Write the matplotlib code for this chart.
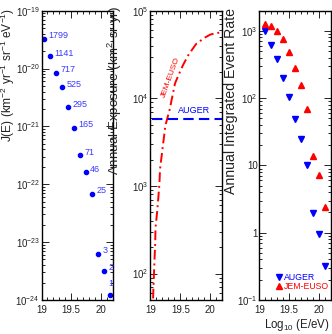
import matplotlib
matplotlib.use('Agg')
import matplotlib.pyplot as plt
import matplotlib.ticker as mticker
import numpy as np

plt.rcParams['font.family'] = ['Liberation Sans', 'DejaVu Sans']
plt.rcParams['mathtext.fontset'] = 'custom'
plt.rcParams['mathtext.rm'] = 'Liberation Sans'

# panel 1: flux and event counts
flux_logE = [19.05, 19.15, 19.25, 19.35, 19.45, 19.55, 19.65, 19.75, 19.85, 19.95, 20.05, 20.15]
flux_val = [3.3e-20, 1.65e-20, 8.5e-21, 4.8e-21, 2.15e-21, 9.5e-22, 3.2e-22, 1.6e-22, 6.9e-23, 6.3e-24, 3.2e-24, 1.23e-24]
counts = ['1799', '1141', '717', '525', '295', '165', '71', '46', '25', '3', '2', '1']

# panel 2: annual exposure
exp_logE = [19.045, 19.05, 19.06, 19.07, 19.08, 19.085, 19.11, 19.13, 19.15, 19.16, 19.19, 19.25,
            19.32, 19.41, 19.47, 19.54, 19.63, 19.76, 19.9, 20.0, 20.1, 20.18]
exp_jem = [52, 68, 102, 152, 222, 331, 488, 705, 1050, 1540, 2280, 4900,
           7400, 14800, 18500, 23700, 31000, 41600, 49000, 53500, 55500, 56500]
auger_exposure = 5800

# panel 3: annual integrated event rate
rate_logE = [19.1, 19.2, 19.3, 19.4, 19.5, 19.6, 19.7, 19.8, 19.9, 20.0, 20.1]
rate_auger = [1000, 615, 378, 202, 103, 49, 25, 10, 1.93, 0.97, 0.32]
rate_jem = [1255, 1170, 1010, 746, 490, 278, 159, 70, 14, 7.3, 2.4]

fig = plt.figure(figsize=(3.32, 3.34), dpi=100)
bottom, height = 0.102, 0.866
ax1 = fig.add_axes([0.125, bottom, 0.215, height])
ax2 = fig.add_axes([0.453, bottom, 0.217, height])
ax3 = fig.add_axes([0.781, bottom, 0.216, height])

txt_color = '#222222'
for ax in (ax1, ax2, ax3):
    ax.set_yscale('log')
    ax.set_xlim(19, 20.2)
    ax.set_xticks([19, 19.5, 20])
    ax.set_xticklabels(['19', '19.5', '20'])
    ax.xaxis.set_minor_locator(mticker.MultipleLocator(0.1))
    ax.tick_params(which='both', direction='in', top=True, right=True,
                   labelsize=7, colors='black', labelcolor=txt_color, width=0.6, pad=3.5)
    ax.tick_params(axis='y', pad=1.2)
    ax.tick_params(which='major', length=5)
    ax.tick_params(which='minor', length=2.5)
    ax.yaxis.set_minor_locator(mticker.LogLocator(base=10, subs=np.arange(2, 10)))
    ax.yaxis.set_minor_formatter(mticker.NullFormatter())
    for s in ax.spines.values():
        s.set_linewidth(1.0)

def logfmt(v, pos):
    e = int(round(np.log10(v)))
    if e == 0:
        return '1'
    if e == 1:
        return '10'
    return r'$10^{%d}$' % e

# panel 1
ax1.plot(flux_logE, flux_val, 'o', color='blue', ms=3)
for i, (x, y, c) in enumerate(zip(flux_logE, flux_val, counts)):
    last = i == len(counts) - 1
    ax1.annotate(c, (x, y), xytext=(-1, 5) if last else (3, 2), textcoords='offset points',
                 color='#3a3aff', fontsize=6.5, ha='left', va='bottom' if last else 'center',
                 annotation_clip=False)
ax1.set_ylim(1e-24, 1e-19)
ax1.yaxis.set_major_locator(mticker.LogLocator(base=10, numticks=10))
ax1.yaxis.set_major_formatter(mticker.FuncFormatter(logfmt))
fig.text(0.024, 0.975, r'J(E) (km$^{-2}$ yr$^{-1}$ sr$^{-1}$ eV$^{-1}$)', fontsize=8.6,
         color=txt_color, rotation=90, ha='center', va='top')

# panel 2
ax2.plot(exp_logE, exp_jem, color='red', ls=(0, (5, 2, 1, 2)), lw=1.4)
ax2.axhline(auger_exposure, xmin=0.02, color='blue', ls=(0, (5, 2.5)), lw=1.5)
ax2.text(19.72, auger_exposure * 1.1, 'AUGER', color='blue', fontsize=6.5, ha='center', va='bottom')
ax2.text(19.34, 1.72e4, 'JEM-EUSO', color='red', fontsize=6, rotation=70, ha='center', va='center')
ax2.set_ylim(50, 1e5)
ax2.yaxis.set_major_formatter(mticker.FuncFormatter(logfmt))
fig.text(0.346, 0.982, r'Annual Exposure (km$^2$ sr yr)', fontsize=9.6,
         color=txt_color, rotation=90, ha='center', va='top')

# panel 3
ax3.plot(rate_logE, rate_auger, 'v', color='blue', ms=4.5, label='AUGER')
ax3.plot(rate_logE, rate_jem, '^', color='red', ms=4.5, label='JEM-EUSO')
ax3.set_ylim(0.1, 2000)
ax3.yaxis.set_major_formatter(mticker.FuncFormatter(logfmt))
fig.text(0.697, 0.975, 'Annual Integrated Event Rate', fontsize=10.2,
         color=txt_color, rotation=90, ha='center', va='top')
leg = ax3.legend(loc='lower left', bbox_to_anchor=(0.24, 0.03), fontsize=6.3, frameon=False,
                 handlelength=0.6, handletextpad=0.2, labelspacing=0.0, borderpad=0,
                 borderaxespad=0)
for t, c in zip(leg.get_texts(), ['blue', 'red']):
    t.set_color(c)
ax3.set_xlabel(r'Log$_{10}$ (E/eV)', fontsize=8.3, color=txt_color)
ax3.xaxis.set_label_coords(0.53, -0.06, transform=ax3.transAxes)
ax3.xaxis.label.set_va('top')

fig.savefig('out.png', dpi=100)
